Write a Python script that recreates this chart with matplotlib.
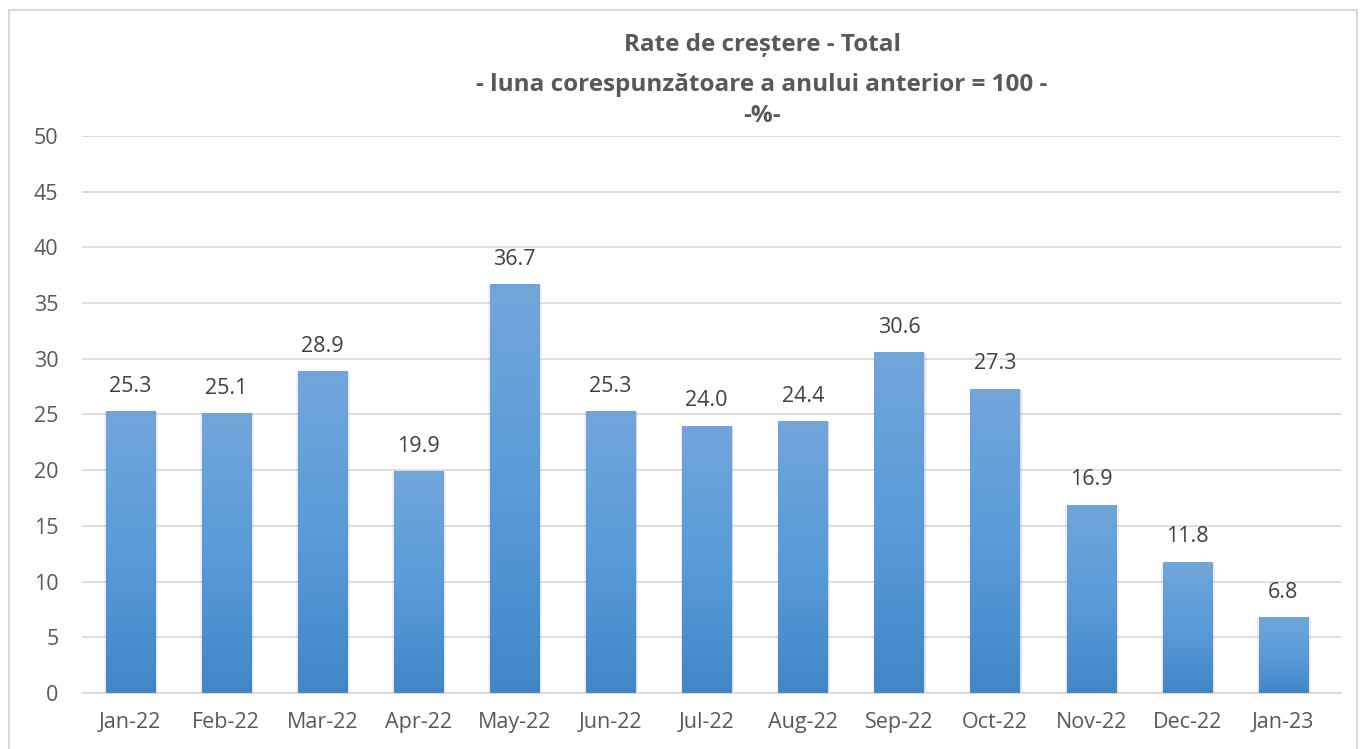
"""
Rate de crestere - Total, bar chart in Excel style
"""

import numpy as np
import matplotlib.pyplot as plt
from matplotlib.colors import LinearSegmentedColormap
from matplotlib.patches import Rectangle

plt.rcParams['font.family'] = ['Open Sans', 'DejaVu Sans']

months = ['Jan-22', 'Feb-22', 'Mar-22', 'Apr-22', 'May-22', 'Jun-22', 'Jul-22',
          'Aug-22', 'Sep-22', 'Oct-22', 'Nov-22', 'Dec-22', 'Jan-23']
values = [25.3, 25.1, 28.9, 19.9, 36.7, 25.3, 24.0, 24.4, 30.6, 27.3, 16.9, 11.8, 6.8]
y_ticks = [0, 5, 10, 15, 20, 25, 30, 35, 40, 45, 50]

text_color = '#595959'
grad = LinearSegmentedColormap.from_list('bar', ['#4186c8', '#5a9bda', '#71a6d9'])

fig = plt.figure(figsize=(13.6, 7.49), dpi=100)
ax = fig.add_axes([0.0603, 0.0748, 0.9257, 0.7436])

x = np.arange(len(months))
width = 0.51

# soft shadow, then the bar itself, then a gradient clipped to the bar
for k, a in [(0.05, 0.10), (0.03, 0.15), (0.015, 0.2)]:
    ax.bar(x + 0.008, np.array(values) + 0.05, width=width + k, bottom=-0.15,
           color='#a0a0a0', alpha=a, linewidth=0, zorder=2)
bars = ax.bar(x, values, width=width, color='#5b9bd5', zorder=3)
for bar in bars:
    x0, w, h = bar.get_x(), bar.get_width(), bar.get_height()
    img = ax.imshow(np.linspace(0, 1, 256).reshape(-1, 1), cmap=grad, aspect='auto',
                    extent=(x0, x0 + w, 0, h), origin='lower', zorder=4)
    img.set_clip_path(bar)
    ax.text(x0 + w / 2, h + 1.3, f'{h:.1f}', ha='center', va='bottom',
            fontsize=15.5, color='#404040', zorder=5)

ax.set_xlim(-0.5, 12.6)
ax.set_ylim(0, 50)
ax.set_yticks(y_ticks)
ax.set_xticks(x)
ax.set_xticklabels(months)
ax.tick_params(axis='both', length=0, labelsize=15.5, labelcolor=text_color)
ax.tick_params(axis='y', pad=17)
ax.tick_params(axis='x', pad=14)
ax.grid(axis='y', color='#d9d9d9', linewidth=1.2, zorder=0)
ax.set_axisbelow(True)
for side in ['top', 'right', 'left']:
    ax.spines[side].set_visible(False)
ax.spines['bottom'].set_color('#d9d9d9')
ax.spines['bottom'].set_linewidth(1.2)

# Title
tx = 762 / 1360
fig.text(tx, 0.940, 'Rate de creștere - Total', ha='center', va='center',
         fontsize=17.5, fontweight='bold', color=text_color)
fig.text(tx, 0.886, '- luna corespunzătoare a anului anterior = 100 -', ha='center',
         va='center', fontsize=17.5, fontweight='bold', color=text_color)
fig.text(tx, 0.845, '-%-', ha='center', va='center',
         fontsize=17.5, fontweight='bold', color=text_color)

# outer border of the chart area
fig.patches.append(Rectangle((9 / 1360, -0.05), 1348 / 1360, 1.037, transform=fig.transFigure,
                             fill=False, edgecolor='#d9d9d9', linewidth=1.5))

plt.savefig('out.png', dpi=100)
plt.close()
